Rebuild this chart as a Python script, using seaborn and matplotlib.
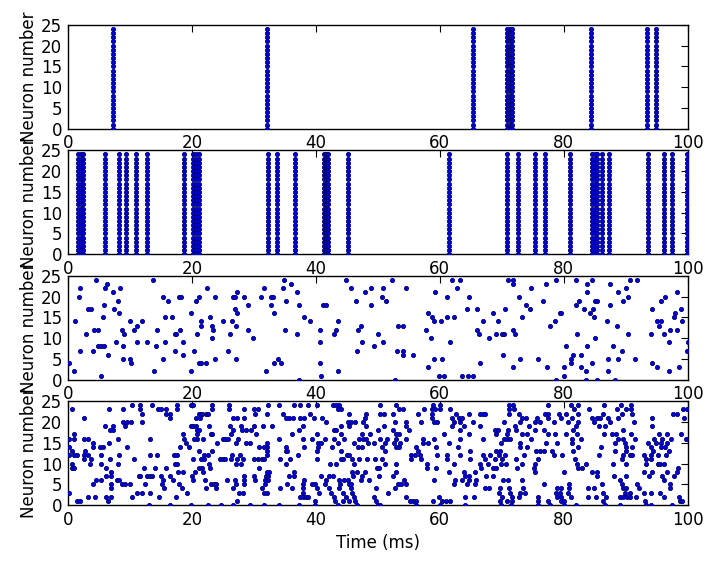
import numpy as np
import pandas as pd
import matplotlib
matplotlib.use("Agg")
import matplotlib.pyplot as plt
import seaborn as sns

# ---------------- data ----------------
neuron_ids = list(range(25))

# panel 1: synchronous volleys (all 25 neurons fire)
p1_times = [7.3, 32.1, 65.4, 70.9, 71.3, 71.7, 84.4, 93.4, 94.8]

# panel 2: synchronous volleys
p2_times = [1.66, 2.05, 2.47, 6.0, 8.2, 9.3, 11.0, 12.7, 18.7, 20.2, 20.6, 21.1,
            32.3, 33.7, 36.6, 41.3, 41.7, 42.0, 45.2, 61.45, 70.75, 72.6, 75.3,
            77.0, 81.0, 84.6, 85.0, 85.4, 86.2, 87.3, 93.5, 96.1, 97.5, 99.8]

# panel 3: sparse irregular spikes (time, neuron)
p3_time = [0.2, 1.0, 1.1, 1.8, 1.9, 1.9, 2.9, 3.2, 3.8, 4.0, 4.2, 4.5, 4.9, 4.8, 5.3, 5.4,
           5.6, 5.9, 5.9, 6.0, 6.3, 6.4, 7.2, 7.5, 7.7, 8.0, 8.3, 8.4, 8.65, 8.9, 9.0, 8.9,
           10.0, 10.0, 10.1, 10.6, 11.1, 11.2, 11.9, 12.8, 13.8, 13.9, 14.2, 14.3, 15.3,
           15.3, 15.7, 15.6, 16.2, 16.8, 17.3, 17.2, 17.5, 17.9, 18.2, 18.1, 18.5, 18.5,
           19.8, 19.8, 20.4, 20.6, 20.9, 21.2, 21.2, 21.5, 21.4, 21.5, 22.2, 22.5, 22.9,
           23.2, 23.4, 23.2, 23.7, 23.8, 25.0,
           25.9, 26.2, 26.5, 26.7, 27.0, 27.3, 27.0, 27.3, 27.1, 27.1, 28.4, 29.0, 29.1,
           29.9, 31.2, 31.7, 32.0, 32.7, 33.1, 32.7, 33.3, 33.2, 33.9, 34.3, 34.7, 34.8,
           35.1, 35.0, 36.0, 36.9, 37.2, 37.0, 37.3, 38.1, 39.1, 40.6, 40.6, 40.6, 40.9,
           41.1, 41.7, 42.9, 43.2, 43.5, 43.6, 44.8, 45.6, 46.4, 46.8, 47.2, 47.4, 46.6,
           47.85, 48.9, 48.9, 49.3, 50.0,
           50.6, 50.9, 50.9, 51.3, 52.2, 52.7, 53.1, 53.2, 54.0, 54.0, 54.0, 54.6, 55.6,
           57.7, 58.1, 58.1, 58.6, 58.7, 59.0, 59.0, 59.2, 59.8, 60.2, 60.3, 60.6, 61.1,
           61.1, 61.6, 61.9, 62.2, 62.7, 63.2, 63.5, 64.3, 64.5, 64.7, 65.3, 66.0, 66.0,
           66.3, 66.5, 67.0, 67.9, 68.5, 69.1, 69.3, 70.0, 70.4, 70.2, 70.5, 71.0, 71.8,
           71.8, 71.8, 72.1, 71.8, 72.7, 72.9, 73.2, 73.9, 74.7, 74.6,
           75.9, 76.6, 77.2, 77.3, 77.7, 78.5, 78.7, 78.8, 79.3, 79.5, 80.1, 80.1, 80.3,
           81.1, 81.1, 81.4, 81.9, 81.9, 82.2, 82.4, 82.7, 82.7, 83.2, 83.5, 83.5, 83.7,
           83.7, 83.7, 84.2, 84.5, 84.5, 84.7, 84.8, 85.1, 85.3, 85.1, 85.4, 86.9, 87.2,
           87.2, 87.4, 87.5, 88.0, 88.2, 88.5, 88.8, 88.8, 89.3, 89.6, 90.1, 90.3, 90.4,
           90.6, 91.4, 91.8, 94.0, 94.2, 94.2, 95.0, 95.0, 95.3, 95.6, 95.6, 96.2, 96.3,
           97.0, 97.0, 97.1, 97.8, 98.0, 98.2, 98.3, 98.5, 98.9, 99.1, 99.9, 100.0]
p3_neuron = [4, 2, 14, 20, 22, 7, 11, 17, 17, 7, 12, 24, 12, 8, 1, 8,
             15, 8, 18, 22, 23, 6, 21, 17, 9, 19, 16, 22, 12, 8, 11, 5,
             14, 5, 4, 12, 13, 9, 14, 9, 24, 2, 8, 12, 20,
             5, 9, 15, 19, 15, 7, 11, 11, 20, 20, 12, 9, 6,
             16, 2, 7, 19, 11, 20, 4, 4, 14, 13, 4, 22, 15,
             13, 12, 10, 20, 5, 14,
             7, 11, 14, 20, 20, 21, 17, 16, 13, 5, 20, 18, 12,
             10, 20, 22, 2, 20, 20, 18, 16, 4, 5, 4, 22, 24,
             19, 12, 23, 21, 18, 11, 0, 15, 14, 12, 9, 4, 1,
             18, 18, 11, 12, 14, 2, 24, 22, 19, 12, 13, 9, 7,
             21, 22, 18, 8, 11,
             20, 22, 9, 19, 24, 0, 7, 13, 13, 7, 6, 22, 6,
             12, 16, 3, 10, 15, 14, 5, 21, 1, 14, 5, 1, 20,
             15, 9, 24, 15, 22, 24, 1, 17, 1, 20, 1, 17, 12,
             11, 4, 14, 10, 16, 11, 14, 11, 11, 6, 17, 24, 24,
             23, 12, 11, 3, 20, 5, 15, 18, 22, 17,
             5, 19, 23, 3, 13, 14, 0, 24, 16, 16, 1, 3, 8,
             4, 5, 6, 24, 18, 11, 19, 6, 3, 17, 2, 0, 23,
             21, 8, 16, 24, 4, 17, 15, 19, 19, 10, 0, 14, 5,
             2, 23, 18, 8, 0, 13, 21, 5, 7, 19, 22, 20, 11,
             24, 5, 24, 11, 17, 4, 14, 3, 13, 19, 14, 11, 20,
             9, 2, 12, 15, 16, 21, 12, 3, 17, 14, 7, 9]

# panel 4: dense irregular spikes, spike times per neuron (index = neuron number)
p4_times_by_neuron = [
    [13.0, 16.45, 19.9, 22.6, 24.7, 26.7, 29.4, 31.6, 34.0, 37.2, 39.8, 43.5, 46.7, 50.0,
     50.4, 56.1, 60.0, 64.1, 69.8, 71.4, 75.9, 77.7, 80.1, 81.9, 86.7, 89.1, 93.2, 94.05, 97.5],
    [1.4, 2.0, 6.45, 27.2, 39.9, 43.1, 44.4, 45.4, 46.35, 49.7, 55.2, 55.7, 56.1, 58.9, 60.4,
     61.0, 61.7, 69.7, 70.75, 71.7, 75.9, 77.4, 79.5, 80.1, 86.3, 93.1, 98.7, 99.0],
    [3.3, 4.3, 6.2, 7.0, 10.4, 14.7, 17.4, 37.4, 37.95, 38.4, 38.7, 42.9, 44.8, 46.2, 49.4,
     54.6, 59.9, 64.1, 65.5, 70.0, 71.6, 72.8, 75.8, 78.9, 79.5, 81.2, 83.9, 85.2, 86.8,
     89.1, 89.6, 90.2, 90.7, 91.7, 96.1, 98.6],
    [0.2, 11.2, 12.0, 13.2, 19.2, 27.6, 28.3, 31.7, 32.15, 37.95, 40.5, 42.5, 44.4, 45.9,
     51.7, 69.6, 71.3, 73.0, 73.7, 78.7, 79.3, 80.65, 86.35, 89.85, 90.7, 92.9, 94.05, 95.5],
    [6.9, 15.5, 18.4, 22.2, 23.9, 26.7, 31.3, 34.2, 36.1, 37.95, 40.2, 42.05, 43.7, 45.6,
     49.7, 52.8, 67.3, 67.96, 69.7, 71.1, 73.45, 78.9, 79.5, 80.8, 83.9, 84.8, 89.6, 90.0,
     92.1, 97.2],
    [4.0, 7.0, 8.8, 9.25, 10.05, 12.5, 15.2, 17.9, 23.1, 23.6, 23.9, 27.1, 28.4, 31.8, 35.3,
     37.95, 39.3, 39.8, 41.4, 43.9, 45.3, 45.6, 53.3, 53.7, 54.5, 62.2, 64.3, 65.7, 76.8,
     80.8, 86.2, 89.4, 91.8, 97.1],
    [4.6, 5.4, 7.85, 8.2, 15.3, 17.0, 20.2, 22.1, 25.6, 27.0, 28.4, 30.2, 31.8, 32.3, 38.1,
     41.7, 43.8, 44.6, 45.2, 47.2, 48.6, 54.15, 59.0, 62.5, 63.5, 64.7, 65.9, 70.2, 71.0,
     73.2, 89.1, 96.2],
    [6.1, 7.0, 11.4, 11.7, 12.7, 13.2, 13.6, 15.0, 16.4, 19.95, 28.4, 30.0, 31.9, 32.2, 35.7,
     36.5, 40.8, 42.05, 42.7, 46.0, 47.4, 50.2, 52.4, 64.1, 64.7, 67.4, 68.6, 85.3, 88.1,
     90.1, 93.8, 95.8, 97.8],
    [6.9, 17.7, 18.6, 20.5, 21.8, 32.05, 32.5, 36.5, 45.9, 46.7, 47.9, 53.0, 61.5, 63.9, 65.7,
     75.3, 80.1, 84.6, 85.3, 93.0, 94.3, 96.7, 98.2],
    [0.65, 1.0, 6.1, 12.3, 14.0, 15.75, 21.2, 21.7, 22.9, 30.9, 49.9, 50.2, 57.9, 59.35, 66.6,
     68.55, 69.0, 72.4, 75.2, 82.3, 82.9, 98.4],
    [0.65, 3.6, 5.3, 8.1, 17.25, 17.6, 22.7, 27.1, 27.9, 35.2, 42.2, 43.2, 46.1, 51.1, 53.0,
     58.0, 62.2, 66.5, 67.75, 69.8, 70.65, 73.3, 75.3, 82.05, 83.5, 88.0, 90.1, 93.2, 95.2,
     95.5, 96.2],
    [2.6, 3.8, 6.8, 10.6, 20.2, 21.45, 22.0, 24.6, 25.0, 25.4, 26.35, 27.3, 28.2, 29.95, 30.65,
     31.35, 31.7, 34.15, 35.9, 40.1, 44.0, 44.4, 45.8, 47.0, 48.2, 49.5, 50.7, 55.3, 56.9,
     61.1, 64.8, 67.2, 68.9, 70.0, 72.3, 75.9, 81.8, 89.4, 93.2, 94.05],
    [0.2, 1.0, 1.4, 2.6, 3.2, 5.3, 8.3, 13.2, 14.3, 17.1, 17.6, 21.9, 22.6, 26.45, 27.75,
     32.15, 37.05, 44.95, 45.4, 55.3, 56.0, 56.85, 59.6, 61.1, 63.3, 66.9, 68.1, 69.5, 70.5,
     73.6, 78.45, 79.7, 85.6, 89.6, 90.7, 91.0, 93.0, 94.1, 95.2, 96.5],
    [0.65, 2.7, 21.2, 23.2, 32.05, 35.2, 35.4, 40.2, 44.0, 51.1, 56.4, 64.8, 69.0, 69.7, 75.5,
     76.1, 76.8, 78.1, 81.5, 88.2, 90.1, 94.4, 97.0],
    [0.2, 4.0, 5.1, 5.65, 9.6, 18.1, 19.5, 30.9, 31.7, 32.15, 35.2, 38.1, 40.4, 42.6, 46.8,
     47.5, 50.7, 53.0, 53.45, 56.2, 59.35, 63.0, 73.0, 74.1, 82.3, 86.0, 90.1, 91.0, 94.0,
     95.6, 96.3],
    [4.0, 6.7, 19.1, 24.1, 27.1, 28.7, 29.3, 32.1, 40.3, 40.9, 43.5, 46.2, 48.4, 49.4, 51.1,
     52.6, 53.6, 57.2, 58.1, 61.5, 69.8, 72.9, 77.2, 78.9, 81.25, 88.3, 89.9, 93.6, 94.8,
     95.7, 96.7],
    [0.2, 1.0, 2.6, 3.2, 8.1, 13.2, 18.8, 20.4, 20.9, 21.8, 25.05, 25.4, 25.8, 27.5, 34.0,
     38.0, 39.4, 41.5, 43.0, 44.5, 46.9, 47.6, 48.1, 50.3, 51.5, 53.0, 54.5, 57.3, 59.0, 63.2,
     67.0, 70.4, 70.75, 71.3, 74.7, 81.3, 82.7, 88.8, 89.5, 91.5, 94.5, 95.8, 97.3, 99.65],
    [1.0, 18.5, 20.9, 23.0, 23.3, 26.35, 30.4, 36.2, 40.2, 44.0, 47.4, 48.8, 53.0, 53.45, 60.6,
     64.7, 69.1, 70.9, 73.3, 74.0, 77.5, 78.6, 80.3, 82.2, 86.4, 87.7, 88.4, 90.8, 95.4, 96.6,
     98.9],
    [6.8, 7.3, 20.75, 21.1, 26.7, 28.1, 28.8, 29.5, 37.3, 43.0, 43.3, 49.95, 52.4, 55.1, 63.2,
     68.9, 69.4, 71.0, 72.3, 75.3, 76.8, 81.4, 89.6],
    [6.0, 7.3, 9.25, 19.8, 20.2, 20.6, 22.7, 26.1, 28.0, 29.95, 31.4, 32.9, 37.95, 44.0, 45.3,
     48.1, 51.0, 54.6, 62.0, 63.9, 66.5, 72.05, 74.4, 82.0, 85.6, 86.6, 94.3],
    [8.9, 9.6, 10.1, 12.0, 41.6, 45.2, 45.6, 46.3, 47.6, 52.7, 54.6, 56.95, 59.1, 59.5, 62.3,
     63.3, 65.3, 70.4, 72.9, 75.3, 76.1, 78.4, 80.6, 82.3, 84.9, 87.4, 91.25],
    [2.6, 16.5, 20.7, 21.3, 26.7, 27.3, 28.4, 35.2, 35.6, 36.35, 37.5, 38.1, 39.7, 41.0, 48.0,
     58.8, 61.9, 63.1, 63.6, 73.3, 73.9, 75.7, 77.4, 79.5, 81.35, 84.6, 85.4, 85.8, 87.05,
     88.8, 94.3, 99.4],
    [11.9, 15.9, 16.5, 21.1, 21.45, 21.7, 22.25, 22.6, 30.2, 32.05, 34.7, 39.0, 45.3, 48.1,
     50.3, 51.0, 52.5, 56.4, 58.8, 62.6, 64.7, 66.5, 66.9, 67.2, 71.1, 72.8, 76.9, 77.5, 79.2,
     80.3, 82.3, 86.35, 89.4, 91.0, 97.65, 98.25],
    [0.65, 6.6, 8.9, 11.7, 14.6, 15.0, 15.75, 17.6, 23.2, 26.0, 28.4, 30.0, 30.6, 43.6, 44.0,
     53.4, 54.1, 57.5, 58.8, 59.2, 60.1, 61.7, 71.1, 71.9, 81.6, 84.0, 88.6, 90.0, 90.8, 99.3,
     99.9],
    [10.3, 11.6, 13.5, 17.6, 19.8, 20.2, 23.2, 26.0, 32.3, 34.0, 36.5, 37.4, 38.7, 40.2, 42.8,
     43.3, 43.8, 50.3, 53.0, 58.9, 60.1, 71.1, 71.8, 77.5, 81.1, 82.3, 86.5, 89.2, 90.8],
]

x_ticks = [0, 20, 40, 60, 80, 100]
y_ticks = [0, 5, 10, 15, 20, 25]
y_label = "Neuron number"
x_label = "Time (ms)"

# ---------------- build tables ----------------
def volley_table(times):
    return pd.DataFrame({"time": np.repeat(times, len(neuron_ids)),
                         "neuron": np.tile(neuron_ids, len(times))})

df1 = volley_table(p1_times)
df2 = volley_table(p2_times)
df3 = pd.DataFrame({"time": p3_time, "neuron": p3_neuron})
df4 = pd.DataFrame({
    "time": [t for row in p4_times_by_neuron for t in row],
    "neuron": [n for n, row in enumerate(p4_times_by_neuron) for _ in row],
})

# ---------------- style ----------------
sns.set_style("white")
plt.rcParams["font.family"] = ["DejaVu Sans"]
plt.rcParams.update({
    "axes.edgecolor": "black",
    "axes.linewidth": 1.0,
    "axes.labelcolor": "black",
    "text.color": "black",
    "xtick.color": "black",
    "ytick.color": "black",
    "xtick.direction": "in",
    "ytick.direction": "in",
})

fig, axes = plt.subplots(4, 1, figsize=(7.15, 5.65), dpi=100)
fig.subplots_adjust(left=0.095, right=0.962, top=0.956, bottom=0.106, hspace=0.207)

for ax, df in zip(axes, [df1, df2, df3, df4]):
    sns.scatterplot(data=df, x="time", y="neuron", ax=ax, color="#0000e0",
                    edgecolor="#00006e", linewidth=0.6, s=9, legend=False, zorder=3)
    ax.set_xlim(0, 100)
    ax.set_ylim(0, 25)
    ax.set_xticks(x_ticks)
    ax.set_yticks(y_ticks)
    ax.set_xticklabels([str(v) for v in x_ticks])
    ax.set_yticklabels([str(v) for v in y_ticks])
    ax.tick_params(direction="in", top=True, right=True, length=5, width=0.8,
                   labelsize=12, color="black", labelcolor="black", pad=4)
    ax.set_ylabel(y_label, fontsize=12, labelpad=2, color="black")
    ax.set_xlabel("")
    for sp in ax.spines.values():
        sp.set_visible(True)
        sp.set_color("black")
    ax.set_facecolor("white")

axes[-1].set_xlabel(x_label, fontsize=12, color="black")

fig.savefig("out.png", dpi=100, facecolor="white")
